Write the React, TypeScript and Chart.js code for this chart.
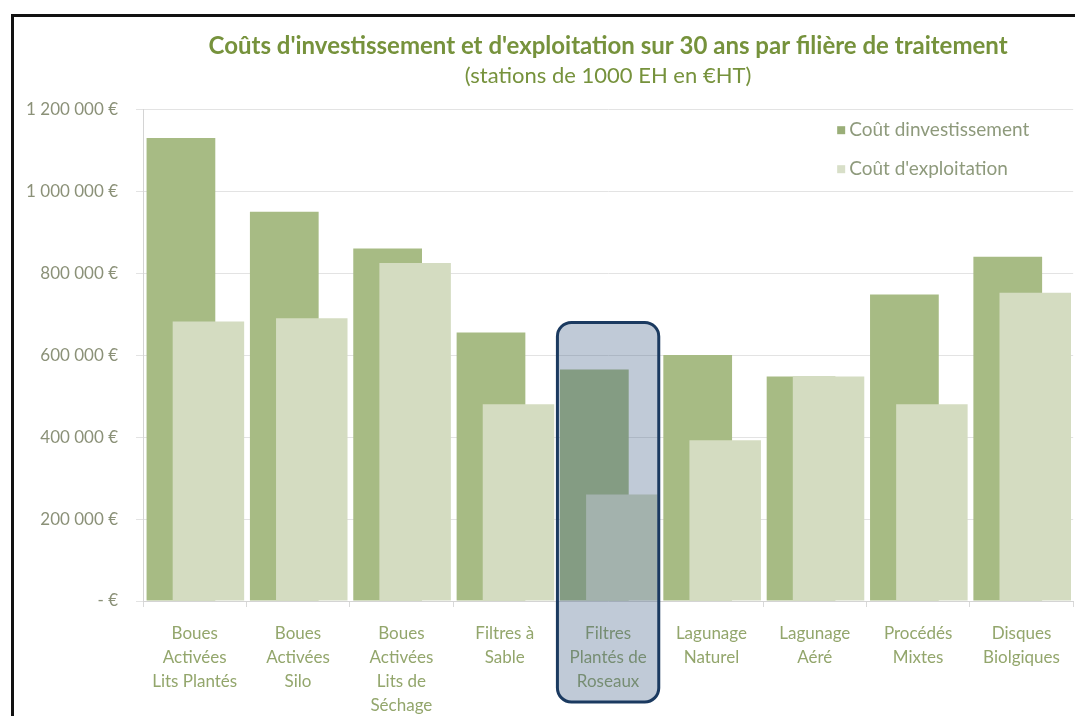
import React, { useEffect, useRef } from 'react';
import { Chart, registerables } from 'chart.js';

Chart.register(...registerables);

// ---------- data ----------
const categories: string[][] = [
  ['Boues', 'Activées', 'Lits Plantés'],
  ['Boues', 'Activées', 'Silo'],
  ['Boues', 'Activées', 'Lits de', 'Séchage'],
  ['Filtres à', 'Sable'],
  ['Filtres', 'Plantés de', 'Roseaux'],
  ['Lagunage', 'Naturel'],
  ['Lagunage', 'Aéré'],
  ['Procédés', 'Mixtes'],
  ['Disques', 'Biolgiques'],
];
const investissement = [1130000, 950000, 860000, 655000, 565000, 600000, 548000, 748000, 840000];
const exploitation = [682000, 690000, 825000, 480000, 260000, 392000, 548000, 480000, 752000];
const seriesNames = ['Coût dinvestissement', "Coût d'exploitation"];
const yTickValues = [0, 200000, 400000, 600000, 800000, 1000000, 1200000];
const yTickLabels = ['- €', '200 000 €', '400 000 €', '600 000 €', '800 000 €', '1 000 000 €', '1 200 000 €'];
const titleText = "Coûts d'investissement et d'exploitation sur 30 ans par filière de traitement";
const subtitleText = '(stations de 1000 EH en €HT)';
const highlightIndex = 4;

// ---------- styles ----------
const FONT = "Lato, 'Open Sans', sans-serif";
const DARK = '#a7bb84';
const LIGHT = '#d4dcc1';
const TITLE_COLOR = '#76923c';

const lightOnTopPlugin = {
  id: 'lightOnTop',
  beforeDatasetDraw(chart: any, args: any) {
    if (args.index === 1 && !chart.$manualDraw) return false;
    return true;
  },
  afterDatasetsDraw(chart: any) {
    chart.$manualDraw = true;
    const meta = chart.getDatasetMeta(1);
    const ctx = chart.ctx;
    ctx.save();
    meta.controller.draw();
    ctx.restore();
    chart.$manualDraw = false;
  },
};

const legendPlugin = {
  id: 'innerLegend',
  afterDraw(chart: any) {
    const { ctx, chartArea } = chart;
    ctx.save();
    ctx.font = `19px ${FONT}`;
    ctx.textBaseline = 'middle';
    ctx.textAlign = 'left';
    chart.data.datasets.forEach((ds: any, i: number) => {
      const x = chartArea.right - 236;
      const y = chartArea.top + 21 + i * 39;
      ctx.fillStyle = ds.legendColor;
      ctx.fillRect(x, y - 4, 8, 8);
      ctx.fillStyle = '#8e9a7c';
      ctx.fillText(ds.label, x + 12, y);
    });
    ctx.restore();
  },
};

const highlightPlugin = {
  id: 'highlight',
  afterDraw(chart: any) {
    const { ctx, chartArea } = chart;
    const xs = chart.scales.x;
    const ys = chart.scales.y;
    const cw = chartArea.width / categories.length;
    const cx = xs.getPixelForValue(highlightIndex);
    const left = cx - cw / 2 + 1;
    const right = cx + cw / 2 - 1;
    const top = ys.getPixelForValue(investissement[highlightIndex]) - 47;
    const bottom = chartArea.bottom + 101;
    const r = 14;
    ctx.save();
    ctx.beginPath();
    ctx.moveTo(left + r, top);
    ctx.lineTo(right - r, top);
    ctx.arcTo(right, top, right, top + r, r);
    ctx.lineTo(right, bottom - r);
    ctx.arcTo(right, bottom, right - r, bottom, r);
    ctx.lineTo(left + r, bottom);
    ctx.arcTo(left, bottom, left, bottom - r, r);
    ctx.lineTo(left, top + r);
    ctx.arcTo(left, top, left + r, top, r);
    ctx.closePath();
    ctx.fillStyle = 'rgba(60, 90, 130, 0.32)';
    ctx.fill();
    ctx.lineWidth = 3;
    ctx.strokeStyle = '#1b3a60';
    ctx.stroke();
    ctx.restore();
  },
};

export default function App() {
  const canvasRef = useRef<HTMLCanvasElement | null>(null);

  useEffect(() => {
    if (!canvasRef.current) return;
    const chart = new Chart(canvasRef.current, {
      type: 'bar',
      data: {
        labels: categories,
        datasets: [
          {
            label: seriesNames[0],
            data: investissement,
            backgroundColor: DARK,
            legendColor: '#9aae78',
            borderWidth: 0,
            categoryPercentage: 0.532,
            barPercentage: 2.5,
          } as any,
          {
            label: seriesNames[1],
            data: exploitation,
            backgroundColor: LIGHT,
            legendColor: '#d8dfc8',
            borderWidth: 0,
            categoryPercentage: 0.532,
            barPercentage: 2.6,
          } as any,
        ],
      },
      options: {
        animation: false,
        responsive: false,
        layout: { padding: { left: 0, right: 0, top: 0, bottom: 0 } },
        plugins: {
          legend: { display: false },
          tooltip: { enabled: false },
          title: {
            display: true,
            fullSize: false,
            text: titleText,
            color: TITLE_COLOR,
            font: { family: FONT, size: 24, weight: 'bold' },
            padding: { top: 32, bottom: 2 },
          },
          subtitle: {
            display: true,
            fullSize: false,
            text: subtitleText,
            color: TITLE_COLOR,
            font: { family: FONT, size: 22, weight: 'normal' },
            padding: { top: 0, bottom: 20 },
          },
        },
        scales: {
          x: {
            grid: {
              display: true,
              drawOnChartArea: false,
              tickLength: 6,
              color: '#d9d9d9',
            },
            border: { color: '#d4d4d4' },
            ticks: {
              autoSkip: false,
              maxRotation: 0,
              minRotation: 0,
              padding: 15,
              color: '#93a66c',
              font: { family: FONT, size: 17, lineHeight: 1.41 },
            },
            afterFit: (s: any) => {
              s.height = 115;
            },
          },
          y: {
            min: 0,
            max: 1200000,
            ticks: {
              stepSize: 200000,
              padding: 18,
              color: '#8b9178',
              font: { family: FONT, size: 17 },
              callback: (v: any) => {
                const i = yTickValues.indexOf(Number(v));
                return i >= 0 ? yTickLabels[i] : '';
              },
            },
            grid: { color: '#e3e3e3', tickLength: 7 },
            border: { color: '#d4d4d4' },
            afterFit: (s: any) => {
              s.width = 143;
            },
          },
        },
      },
      plugins: [lightOnTopPlugin, legendPlugin, highlightPlugin],
    } as any);
    return () => chart.destroy();
  }, []);

  return (
    <div
      style={{
        position: 'fixed',
        left: 0,
        top: 0,
        width: 1075,
        height: 716,
        overflow: 'hidden',
        background: '#ffffff',
      }}
    >
      <div
        style={{
          position: 'absolute',
          left: 11,
          top: 14,
          width: 1200,
          height: 800,
          borderLeft: '3px solid #111',
          borderTop: '3px solid #111',
        }}
      />
      <canvas
        ref={canvasRef}
        width={1075}
        height={716}
        style={{ position: 'absolute', left: 0, top: 0, width: 1075, height: 716 }}
      />
    </div>
  );
}
